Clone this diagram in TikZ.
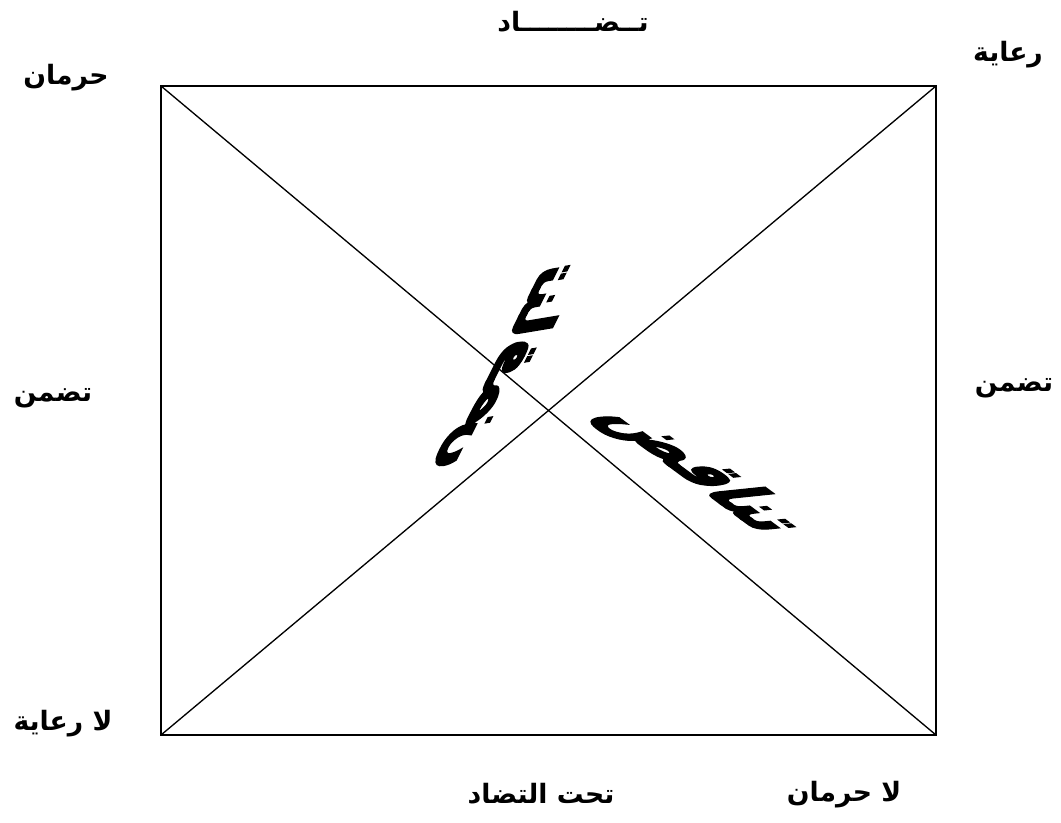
\documentclass[tikz,border=0pt]{standalone}
\usepackage{fontspec}
\newfontfamily\arabicfont[Script=Arabic]{DejaVu Sans}
\newfontfamily\bigarabic[Script=Arabic,BoldFeatures={FakeBold=3}]{DejaVu Sans}
\TeXXeTstate=1
\begin{document}
\begin{tikzpicture}[x=0.75pt,y=-0.75pt,
  lbl/.style={font=\arabicfont\bfseries\fontsize{20}{24}\selectfont, inner sep=0pt},
  frame/.style={line width=1pt},
  big/.style={font=\bigarabic\bfseries\fontsize{20}{24}\selectfont, inner sep=0pt, transform shape}]
\useasboundingbox (0,0) rectangle (1061,823);
\coordinate (tl) at (161,86);
\coordinate (tr) at (936,86);
\coordinate (bl) at (161,735);
\coordinate (br) at (936,735);
\draw[frame] (tl) rectangle (br);
\draw[frame] (tl) -- (br);
\draw[frame] (tr) -- (bl);
\node[lbl] (tadad) at (573,22) {\beginR تــضــــــــاد\endR};
\node[lbl] (hirman) at (66,78) {\beginR حرمان\endR};
\node[lbl] (riaya) at (1008,55) {\beginR رعاية\endR};
\node[lbl] (tadammunL) at (53,398) {\beginR تضمن\endR};
\node[lbl] (tadammunR) at (1014,388) {\beginR تضمن\endR};
\node[lbl] (lariaya) at (63,724) {\beginR لا رعاية\endR};
\node[lbl] (tahta) at (541,794) {\beginR تحت التضاد\endR};
\node[lbl] (lahirman) at (844,795) {\beginR لا حرمان\endR};
\begin{scope}[shift={(508,365)}, cm={1.2,2.4,2.1,0.35,(0,0)}]
  \node[big] (tanaqudL) at (0,0) {\beginR تناقض\endR};
\end{scope}
\begin{scope}[shift={(700,472)}, cm={1.9,-1.4,2.9,0.3,(0,0)}]
  \node[big] (tanaqudR) at (0,0) {\beginR تناقض\endR};
\end{scope}
\end{tikzpicture}
\end{document}
